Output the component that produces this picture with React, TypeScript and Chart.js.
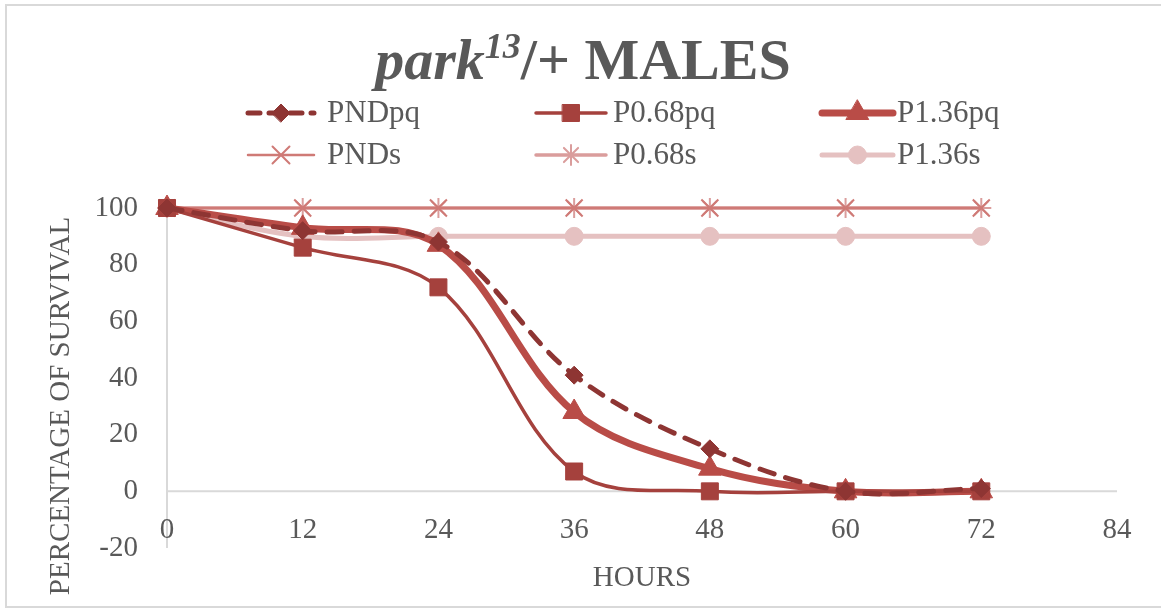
import React, { useEffect, useRef } from "react";
import { Chart, registerables } from "chart.js";
import { drawPoint } from "chart.js/helpers";

Chart.register(...registerables);

// Survival over time (hours) for each treatment group
const HOURS = [0, 12, 24, 36, 48, 60, 72];
const PND_PQ = [100, 92, 88, 41, 15, 0, 1];
const P068_PQ = [100, 86, 72, 7, 0, 0, 0];
const P136_PQ = [100, 93, 87, 28, 8, 0, 0];
const PND_S = [100, 100, 100, 100, 100, 100, 100];
const P068_S = [100, 100, 100, 100, 100, 100, 100];
const P136_S = [100, 90, 90, 90, 90, 90, 90];

const SERIES_NAMES = ["PNDpq", "P0.68pq", "P1.36pq", "PNDs", "P0.68s", "P1.36s"];
const X_TICKS = [0, 12, 24, 36, 48, 60, 72, 84];
const Y_TICKS = [-20, 0, 20, 40, 60, 80, 100];
const X_TITLE = "HOURS";
const Y_TITLE = "PERCENTAGE OF SURVIVAL";

const TEXT = "#595959";
const AXIS = "#D9D9D9";
const FONT = "'Liberation Serif', 'Times New Roman', serif";

type Style = {
  color: string;
  width: number;
  dash: number[];
  point: string;
  radius: number;
};

const STYLES: Style[] = [
  { color: "#8E3533", width: 5, dash: [15, 12], point: "rectRot", radius: 9 },
  { color: "#A5413D", width: 3.5, dash: [], point: "rect", radius: 12 },
  { color: "#B94C47", width: 7, dash: [], point: "triangle", radius: 13 },
  { color: "#CF7A76", width: 2.5, dash: [], point: "crossRot", radius: 12 },
  { color: "#DA9D9C", width: 3.5, dash: [], point: "star", radius: 10 },
  { color: "#E5C1C1", width: 5, dash: [], point: "circle", radius: 9 },
];

const SERIES = [PND_PQ, P068_PQ, P136_PQ, PND_S, P068_S, P136_S];

const LEGEND_ROWS = [113, 155];
const LEGEND_COLS = [
  { x0: 248, x1: 314, tx: 327 },
  { x0: 536, x1: 606, tx: 613 },
  { x0: 822, x1: 893, tx: 897 },
];

const chromePlugin = {
  id: "chrome",
  beforeDatasetsDraw(chart: any) {
    const ctx = chart.ctx;
    const xs = chart.scales.x;
    const ys = chart.scales.y;
    const area = chart.chartArea;
    ctx.save();
    ctx.strokeStyle = AXIS;
    ctx.lineWidth = 2;
    ctx.beginPath();
    const y0 = ys.getPixelForValue(0);
    ctx.moveTo(area.left, y0);
    ctx.lineTo(area.right, y0);
    const x0 = xs.getPixelForValue(0);
    ctx.moveTo(x0, area.top);
    ctx.lineTo(x0, area.bottom);
    ctx.stroke();
    ctx.restore();
  },
  afterDraw(chart: any) {
    const ctx = chart.ctx;
    const xs = chart.scales.x;
    const ys = chart.scales.y;
    const area = chart.chartArea;
    ctx.save();

    // outer frame
    ctx.strokeStyle = AXIS;
    ctx.lineWidth = 2;
    ctx.strokeRect(6, 5, 1164, 602);

    ctx.fillStyle = TEXT;

    // y tick labels
    ctx.font = `29px ${FONT}`;
    ctx.textAlign = "right";
    ctx.textBaseline = "middle";
    Y_TICKS.forEach((v) => ctx.fillText(String(v), 138, ys.getPixelForValue(v)));

    // x tick labels
    ctx.textAlign = "center";
    X_TICKS.forEach((v) => ctx.fillText(String(v), xs.getPixelForValue(v), 530));

    // axis titles
    ctx.fillText(X_TITLE, (area.left + area.right) / 2, 578);
    ctx.save();
    ctx.translate(61, 406);
    ctx.rotate(-Math.PI / 2);
    ctx.fillText(Y_TITLE, 0, 0);
    ctx.restore();

    // chart title: italic gene name with superscript, then the group
    const parts = [
      { t: "park", f: `italic bold 58px ${FONT}`, dy: 0 },
      { t: "13", f: `italic bold 36px ${FONT}`, dy: -21 },
      { t: "/+ MALES", f: `bold 58px ${FONT}`, dy: 0 },
    ];
    let total = 0;
    parts.forEach((p) => {
      ctx.font = p.f;
      total += ctx.measureText(p.t).width;
    });
    let tx = 583 - total / 2;
    ctx.textAlign = "left";
    ctx.textBaseline = "alphabetic";
    parts.forEach((p) => {
      ctx.font = p.f;
      ctx.fillText(p.t, tx, 79 + p.dy);
      tx += ctx.measureText(p.t).width;
    });

    // legend
    ctx.font = `31px ${FONT}`;
    ctx.textBaseline = "middle";
    SERIES_NAMES.forEach((name, i) => {
      const s = STYLES[i];
      const row = LEGEND_ROWS[Math.floor(i / 3)];
      const col = LEGEND_COLS[i % 3];
      ctx.save();
      ctx.strokeStyle = s.color;
      ctx.lineWidth = s.width;
      ctx.lineCap = "round";
      ctx.setLineDash(s.dash.length ? [12, 9] : []);
      ctx.beginPath();
      ctx.moveTo(col.x0, row);
      ctx.lineTo(col.x1, row);
      ctx.stroke();
      ctx.setLineDash([]);
      ctx.fillStyle = s.color;
      ctx.lineWidth = s.point === "crossRot" || s.point === "star" ? 2 : 1;
      drawPoint(ctx, { pointStyle: s.point, radius: s.radius, rotation: 0, borderWidth: ctx.lineWidth }, (col.x0 + col.x1) / 2, row);
      ctx.restore();
      ctx.fillStyle = TEXT;
      ctx.fillText(name, col.tx, row + 1);
    });

    ctx.restore();
  },
};

export default function App() {
  const canvasRef = useRef<HTMLCanvasElement | null>(null);

  useEffect(() => {
    const canvas = canvasRef.current;
    if (!canvas) return;
    const chart = new Chart(canvas, {
      type: "line",
      data: {
        datasets: SERIES.map((vals, i) => {
          const s = STYLES[i];
          const thinMarker = s.point === "crossRot" || s.point === "star";
          return {
            label: SERIES_NAMES[i],
            data: vals.map((v, k) => ({ x: HOURS[k], y: v })),
            borderColor: s.color,
            backgroundColor: s.color,
            borderWidth: s.width,
            borderDash: s.dash,
            borderCapStyle: "round" as const,
            pointStyle: s.point as any,
            pointRadius: s.radius,
            pointBackgroundColor: s.color,
            pointBorderColor: s.color,
            pointBorderWidth: thinMarker ? 2 : 1,
            tension: 0.35,
            fill: false,
            clip: false as any,
          };
        }),
      },
      options: {
        responsive: false,
        animation: false,
        layout: { padding: { left: 167, right: 44, top: 208, bottom: 64 } },
        plugins: { legend: { display: false }, tooltip: { enabled: false }, title: { display: false } },
        scales: {
          x: { type: "linear", min: 0, max: 84, display: false },
          y: { type: "linear", min: -20, max: 100, display: false },
        },
      },
      plugins: [chromePlugin],
    });
    return () => chart.destroy();
  }, []);

  return (
    <div style={{ position: "absolute", left: 0, top: 0, width: 1161, height: 612, background: "#fff" }}>
      <canvas ref={canvasRef} width={1161} height={612} />
    </div>
  );
}
